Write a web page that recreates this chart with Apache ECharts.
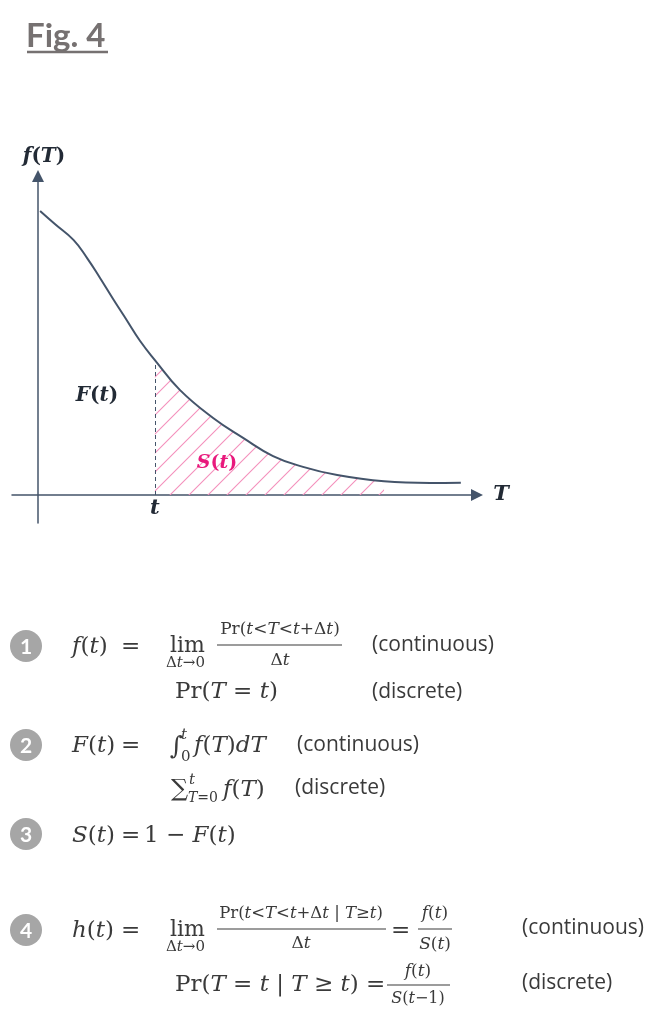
<!DOCTYPE html>
<html>
<head>
<meta charset="utf-8">
<script src="https://cdn.jsdelivr.net/npm/echarts@6/dist/echarts.min.js"></script>
<style>
html,body{margin:0;padding:0;background:#fff;}
#c{width:671px;height:1018px;}
</style>
</head>
<body>
<div id="c"></div>
<script>
// ---- data ----
const T = [0.05, 0.40, 0.84, 1.16, 1.47, 1.78, 2.10, 2.42, 2.77, 3.36, 4.15, 4.86, 5.57, 6.28, 7.09, 8.20, 9.29, 10.02];
const fT = [1.00, 0.954, 0.898, 0.835, 0.764, 0.690, 0.616, 0.542, 0.475, 0.370, 0.271, 0.201, 0.137, 0.099, 0.070, 0.048, 0.042, 0.043];
const tValue = 2.77;      // position of t on the T axis
const hatchEnd = 8.20;    // right end of the hatched S(t) region
const axisNames = ['T', 'f(T)'];
const areaLabels = ['F(t)', 'S(t)', 't'];

const MATH = 'DejaVu Serif';
const SANS = 'Open Sans';
const INK = '#3a3a3a';
const AXIS = '#44546A';

const curve = T.map((x, i) => [x, fT[i]]);
const shaded = curve.filter(p => p[0] >= tValue - 1e-9 && p[0] <= hatchEnd + 1e-9);
const fAtT = fT[T.indexOf(tValue)];

// hatch pattern
const pat = document.createElement('canvas');
const s = 19;
pat.width = s; pat.height = s;
const pc = pat.getContext('2d');
pc.strokeStyle = '#F490BC';
pc.lineWidth = 1.1;
pc.beginPath();
pc.moveTo(-1, s + 1); pc.lineTo(s + 1, -1);
pc.moveTo(-3, 3); pc.lineTo(3, -3);
pc.moveTo(s - 3, s + 3); pc.lineTo(s + 3, s - 3);
pc.stroke();

// math rich-text helper
function mathRich(str, size, opts) {
  opts = opts || {};
  const tokens = [];
  let i = 0;
  while (i < str.length) {
    let style, txt;
    if (str.startsWith('Pr', i)) { style = 'n'; txt = 'Pr'; i += 2; }
    else if (str.startsWith('lim', i)) { style = 'n'; txt = 'lim'; i += 3; }
    else if (/[A-Za-z]/.test(str[i])) { style = 'i'; txt = str[i]; i += 1; }
    else { style = 'n'; txt = str[i]; i += 1; }
    if (tokens.length && tokens[tokens.length - 1].s === style) tokens[tokens.length - 1].t += txt;
    else tokens.push({ s: style, t: txt });
  }
  const text = tokens.map(t => '{' + t.s + '|' + t.t + '}').join('');
  const w = opts.bold ? 'bold' : 'normal';
  const col = opts.color || INK;
  return {
    text: text,
    rich: {
      i: { fontFamily: MATH, fontSize: size, fontStyle: 'italic', fontWeight: w, fill: col, color: col },
      n: { fontFamily: MATH, fontSize: size, fontStyle: 'normal', fontWeight: w, fill: col, color: col }
    }
  };
}

const G = [];
function mtext(x, y, str, size, opts) {
  opts = opts || {};
  const r = mathRich(str, size, opts);
  G.push({ type: 'text', x: x, y: y, z: 10, style: {
    text: r.text, rich: r.rich, fontSize: size, fontFamily: MATH,
    fill: opts.color || INK, align: opts.align || 'left', verticalAlign: 'middle'
  }});
}
function ptext(x, y, str, size, opts) {
  opts = opts || {};
  G.push({ type: 'text', x: x, y: y, z: 10, style: {
    text: str, fontSize: size, fontFamily: opts.family || MATH,
    fontWeight: opts.weight || 'normal', fontStyle: opts.style || 'normal',
    fill: opts.color || INK, align: opts.align || 'left', verticalAlign: 'middle'
  }});
}
function bar(x1, x2, y) {
  G.push({ type: 'line', z: 10, shape: { x1: x1, y1: y, x2: x2, y2: y }, style: { stroke: INK, lineWidth: 1.2 } });
}
function badge(y, n) {
  G.push({ type: 'circle', z: 10, shape: { cx: 26, cy: y, r: 16 }, style: { fill: '#A6A6A6' } });
  G.push({ type: 'text', z: 11, x: 26, y: y + 1, style: { text: String(n), fontFamily: 'Lato', fontWeight: 'bold', fontSize: 21, fill: '#fff', align: 'center', verticalAlign: 'middle' } });
}

// title
G.push({ type: 'text', x: 26, y: 36, z: 10, style: { text: 'Fig. 4', fontFamily: 'Lato', fontWeight: 'bold', fontSize: 33, fill: '#767171', align: 'left', verticalAlign: 'middle' } });
G.push({ type: 'line', z: 10, shape: { x1: 27, y1: 52, x2: 108, y2: 52 }, style: { stroke: '#767171', lineWidth: 2.5 } });

// chart labels
mtext(44, 157, axisNames[1], 20, { bold: true, align: 'center', color: '#222a35' });
mtext(501, 495, axisNames[0], 21, { bold: true, align: 'center', color: '#222a35' });
mtext(97, 396, areaLabels[0], 20, { bold: true, align: 'center', color: '#222a35' });
mtext(217, 463, areaLabels[1], 19, { bold: true, align: 'center', color: '#E8197C' });

// formulas
const CONT = '(continuous)', DISC = '(discrete)';
const SZ = 21;
// row 1
badge(646, 1);
mtext(72, 647, 'f(t)', 23); ptext(121, 647, '=', 23);
ptext(170, 646, 'lim', 22);
mtext(166, 663, 'Δt→0', 15);
mtext(280, 630, 'Pr(t<T<t+Δt)', 17, { align: 'center' });
bar(217, 342, 645);
mtext(280, 661, 'Δt', 17, { align: 'center' });
ptext(372, 645, CONT, SZ, { family: SANS });
mtext(175, 692, 'Pr(T = t)', 23);
ptext(372, 692, DISC, SZ, { family: SANS });
// row 2
badge(745, 2);
mtext(72, 746, 'F(t)', 23); ptext(121, 746, '=', 23);
ptext(170, 747, '∫', 25);
mtext(181, 735, 't', 15); ptext(181, 757, '0', 15);
mtext(194, 746, 'f(T)dT', 23);
ptext(297, 745, CONT, SZ, { family: SANS });
ptext(171, 790, '∑', 24);
mtext(189, 780, 't', 15); mtext(188, 798, 'T=0', 14);
mtext(223, 790, 'f(T)', 23);
ptext(295, 788, DISC, SZ, { family: SANS });
// row 3
badge(834, 3);
mtext(72, 836, 'S(t)', 23); ptext(121, 836, '=', 23);
mtext(144, 836, '1 − F(t)', 23);
// row 4
badge(930, 4);
mtext(72, 931, 'h(t)', 23); ptext(121, 931, '=', 23);
ptext(170, 930, 'lim', 22);
mtext(166, 947, 'Δt→0', 15);
mtext(301, 914, 'Pr(t<T<t+Δt | T≥t)', 16.5, { align: 'center' });
bar(217, 386, 929);
mtext(301, 944, 'Δt', 17, { align: 'center' });
ptext(391, 931, '=', 23);
mtext(435, 914, 'f(t)', 17, { align: 'center' });
bar(418, 452, 929);
mtext(435, 945, 'S(t)', 17, { align: 'center' });
ptext(522, 928, CONT, SZ, { family: SANS });
mtext(175, 985, 'Pr(T = t | T ≥ t) =', 23);
mtext(418, 972, 'f(t)', 17, { align: 'center' });
bar(387, 450, 985);
mtext(418, 999, 'S(t−1)', 16, { align: 'center' });
ptext(522, 983, DISC, SZ, { family: SANS });

const chart = echarts.init(document.getElementById('c'), null, { renderer: 'canvas' });
chart.setOption({
  animation: false,
  backgroundColor: '#fff',
  grid: { left: 12, right: 194, top: 176, bottom: 495 },
  xAxis: {
    type: 'value', min: -0.616, max: 10.403,
    splitLine: { show: false }, axisTick: { show: false }, axisLabel: { show: false },
    axisLine: { onZero: true, lineStyle: { color: AXIS, width: 1.5 }, symbol: ['none', 'triangle'], symbolSize: [12, 12] }
  },
  yAxis: {
    type: 'value', min: -0.0986, max: 1.123,
    splitLine: { show: false }, axisTick: { show: false }, axisLabel: { show: false },
    axisLine: { onZero: true, lineStyle: { color: AXIS, width: 1.5 }, symbol: ['none', 'triangle'], symbolSize: [12, 12] }
  },
  series: [
    {
      type: 'line', data: shaded, smooth: 0.45, symbol: 'none', silent: true,
      lineStyle: { width: 0, opacity: 0 },
      areaStyle: { color: { image: pat, repeat: 'repeat' }, opacity: 1 },
      z: 2
    },
    {
      type: 'line', data: curve, smooth: 0.45, symbol: 'none', silent: true,
      lineStyle: { color: AXIS, width: 2 },
      markLine: {
        silent: true, symbol: 'none', label: { show: false },
        lineStyle: { color: AXIS, width: 1, type: [4, 3] },
        data: [[{ coord: [tValue, 0] }, { coord: [tValue, fAtT] }]]
      },
      z: 3
    }
  ],
  graphic: G
});
function mathStyle(str) {
  const r = mathRich(str, 21, { bold: true, color: '#222a35' });
  return { text: r.text, rich: r.rich, fontSize: 21, fontFamily: MATH, fill: '#222a35', align: 'center', verticalAlign: 'middle' };
}
const tp = chart.convertToPixel({ gridIndex: 0 }, [tValue, 0]);
G.push({ type: 'text', x: tp[0], y: tp[1] + 14, z: 10, style: mathStyle(areaLabels[2]) });
chart.setOption({ graphic: G });
</script>
</body>
</html>
